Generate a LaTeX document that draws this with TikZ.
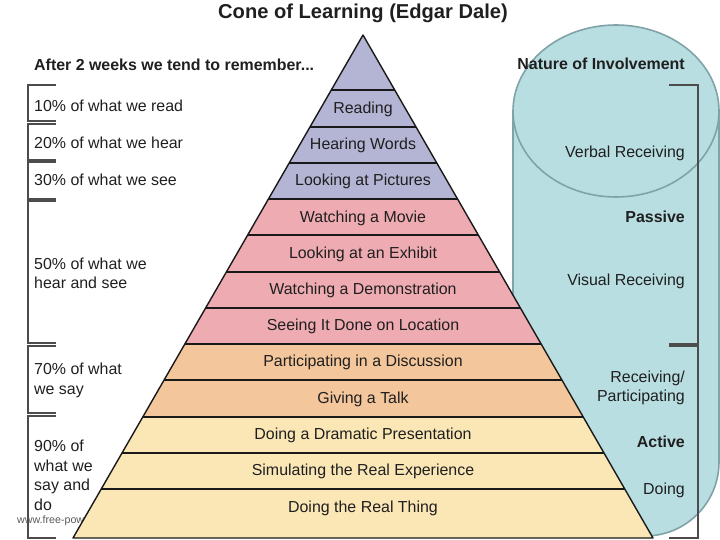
\documentclass[tikz,border=0pt]{standalone}
\usepackage{fontspec}
\setmainfont{Liberation Sans}
\usepackage{tikz}
\usepackage{xcolor}

\definecolor{conelav}{RGB}{180,180,212}
\definecolor{conepink}{RGB}{238,171,178}
\definecolor{coneorange}{RGB}{244,198,156}
\definecolor{coneyellow}{RGB}{251,231,182}
\definecolor{cylblue}{RGB}{185,222,226}
\definecolor{cylrim}{RGB}{128,163,168}

\begin{document}
\begin{tikzpicture}[
    x=1bp, y=-1bp,
    every node/.style={inner sep=0pt, text=black!88,
        font=\fontsize{16}{19.5}\selectfont},
    lbl/.style={anchor=base},
    lefttxt/.style={anchor=base west, align=left},
    righttxt/.style={anchor=base east, align=right},
    head/.style={font=\fontsize{16}{19.5}\selectfont\bfseries},
    title/.style={anchor=base, font=\fontsize{20.2}{24}\selectfont\bfseries},
    band/.style={draw=black!90, line width=1.4bp},
    cone/.style={draw=black!90, line width=1.4bp, line join=round},
    brk/.style={draw=black!70, line width=1.2bp},
    cyl/.style={fill=cylblue, draw=cylrim, line width=1.6bp},
]
\useasboundingbox (0,0) rectangle (720,540);

%% ---- TITLES ----
\node[title] (ttl) at (363,18.5) {Cone of Learning (Edgar Dale)};
\node[head, anchor=base west] (after) at (34,70.5) {After 2 weeks we tend to remember...};

%% ---- INVOLVEMENT CYLINDER ----
\filldraw[cyl] (719,111) -- (719,462)
    arc[start angle=0, end angle=90, radius=74] -- (587,536)
    arc[start angle=90, end angle=180, radius=74] -- (513,111);
\filldraw[cyl] (616,111) ellipse [x radius=103, y radius=86];

%% ---- WATERMARK ----
\node[anchor=base west, font=\fontsize{10.7}{12}\selectfont, text=black!65]
    (wm) at (17,523) {www.free-pow};

%% ---- CONE ----
\coordinate (apex)  at (363,35);
\coordinate (baseL) at (73,538);
\coordinate (baseR) at (653,538);

\begin{scope}
    \clip (apex) -- (baseL) -- (baseR) -- cycle;
    \fill[conelav]    (60,30)  rectangle (670,199);
    \fill[conepink]   (60,199) rectangle (670,344);
    \fill[coneorange] (60,344) rectangle (670,417);
    \fill[coneyellow] (60,417) rectangle (670,540);
    \draw[band] (60,90) -- (670,90)   (60,127) -- (670,127)
                (60,163) -- (670,163) (60,199) -- (670,199)
                (60,235) -- (670,235) (60,272) -- (670,272)
                (60,308) -- (670,308) (60,344) -- (670,344)
                (60,380) -- (670,380) (60,417) -- (670,417)
                (60,453) -- (670,453) (60,489) -- (670,489);
\end{scope}
\draw[cone] (apex) -- (baseL) -- (baseR) -- cycle;

%% ---- CONE LABELS ----
\node[lbl] (read)   at (363,113.5) {Reading};
\node[lbl] (hear)   at (363,149.5) {Hearing Words};
\node[lbl] (pics)   at (363,186)   {Looking at Pictures};
\node[lbl] (movie)  at (363,222.5) {Watching a Movie};
\node[lbl] (exhib)  at (363,258.5) {Looking at an Exhibit};
\node[lbl] (demo)   at (363,294.5) {Watching a Demonstration};
\node[lbl] (locat)  at (363,330.5) {Seeing It Done on Location};
\node[lbl] (discu)  at (363,366.5) {Participating in a Discussion};
\node[lbl] (talk)   at (363,403)   {Giving a Talk};
\node[lbl] (drama)  at (363,439.5) {Doing a Dramatic Presentation};
\node[lbl] (simul)  at (363,475.5) {Simulating the Real Experience};
\node[lbl] (real)   at (363,512)   {Doing the Real Thing};

%% ---- LEFT BRACKETS ----
\draw[brk] (56,85)  -- (28,85)  -- (28,121) -- (56,121);
\draw[brk] (56,124) -- (28,124) -- (28,160) -- (56,160);
\draw[brk] (56,162) -- (28,162) -- (28,199) -- (56,199);
\draw[brk] (56,201) -- (28,201) -- (28,343) -- (56,343);
\draw[brk] (56,346) -- (28,346) -- (28,413) -- (56,413);
\draw[brk] (56,416) -- (28,416) -- (28,538) -- (56,538);

% multi-line nodes sit on the baseline of their last line
\node[lefttxt] (p10) at (34,112)   {10\% of what we read};
\node[lefttxt] (p20) at (34,148.5) {20\% of what we hear};
\node[lefttxt] (p30) at (34,186)   {30\% of what we see};
\node[lefttxt] (p50) at (34,288.5) {50\% of what we\\hear and see};
\node[lefttxt] (p70) at (34,394)   {70\% of what\\we say};
\node[lefttxt] (p90) at (34,510)   {90\% of\\what we\\say and\\do};

%% ---- RIGHT BRACKETS ----
\draw[brk] (669,85)  -- (698,85)  -- (698,344) -- (669,344);
\draw[brk] (669,346) -- (698,346) -- (698,538) -- (669,538);

\node[head, anchor=base east] (natur) at (685,70) {Nature of Involvement};
\node[righttxt] (verbal) at (685,158) {Verbal Receiving};
\node[head, anchor=base east] (pass) at (685,222.5) {Passive};
\node[righttxt] (visual) at (685,286) {Visual Receiving};
\node[righttxt] (recpar) at (685,401.5) {Receiving/\\Participating};
\node[head, anchor=base east] (act) at (685,447) {Active};
\node[righttxt] (doing) at (685,494) {Doing};

\end{tikzpicture}
\end{document}
